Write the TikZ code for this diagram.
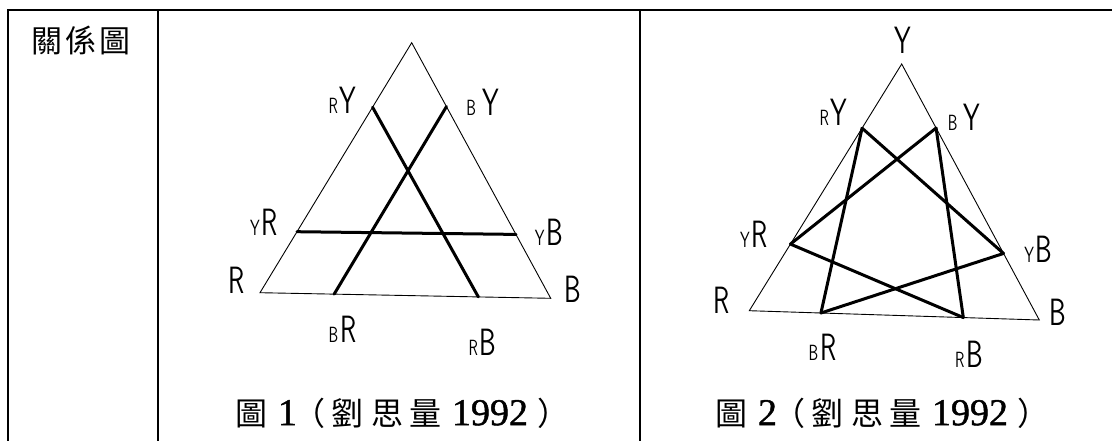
\documentclass[tikz,border=0pt]{standalone}
\usepackage{fontspec}
\usepackage{graphicx}
\usetikzlibrary{calc}
\newfontfamily\cjk{Noto Sans CJK TC}
\newfontfamily\dig{Liberation Serif}[FakeBold=1.2]
\newcommand\hwsub[1]{\scalebox{0.7}[1]{\fontsize{22}{22}\selectfont\sffamily #1}}
\newcommand\hwmain[1]{\scalebox{0.7}[1]{\fontsize{38}{38}\selectfont\sffamily #1}}
\newcommand\hw[2]{\hwsub{#1}\hspace{2pt}\hwmain{#2}}
\newcommand\captline[1]{\fontsize{32}{32}\selectfont
  \makebox[38pt]{\cjk 圖}\makebox[35pt]{\dig\fontsize{38}{38}\selectfont #1}\makebox[20pt]{\hspace{-12pt}\cjk （}\makebox[46pt]{\cjk 劉}\makebox[33pt]{\cjk 思}\makebox[42pt]{\cjk 量}\makebox[88pt]{\dig\fontsize{38}{38}\selectfont 1992}\makebox[27pt]{\hspace{12pt}\cjk ）}}
\tikzset{
  frame/.style={line width=2pt, black},
  thin/.style={line width=0.9pt},
  thick line/.style={line width=3pt, line cap=round},
  lab/.style={anchor=base, inner sep=0pt, outer sep=0pt},
  capt/.style={anchor=west, inner sep=0pt, outer sep=0pt},
}
\begin{document}
\begin{tikzpicture}[x=1pt,y=-1pt]
\useasboundingbox (0,0) rectangle (1112,440);
% table frame
\draw[frame] (8,450) -- (8,10) -- (1120,10);
\draw[frame] (158,10) -- (158,450);
\draw[frame] (640,10) -- (640,450);
\node[anchor=center, inner sep=0pt] (title) at (81,40) {\cjk\fontsize{31}{31}\selectfont 關\hspace{3pt}係\hspace{3pt}圖};

% ---------- figure 1 ----------
\coordinate (A1) at (411.7,42.7);
\coordinate (R1) at (260,292.7);
\coordinate (B1) at (550.7,298.3);
\coordinate (ry1) at ($(A1)!0.258!(R1)$);
\coordinate (yr1) at ($(A1)!0.756!(R1)$);
\coordinate (by1) at ($(A1)!0.25!(B1)$);
\coordinate (yb1) at ($(A1)!0.75!(B1)$);
\coordinate (br1) at ($(R1)!0.255!(B1)$);
\coordinate (rb1) at ($(R1)!0.751!(B1)$);
\draw[thin] (A1) -- (R1) -- (B1) -- cycle;
\draw[thick line] (ry1) -- (rb1);
\draw[thick line] (by1) -- (br1);
\draw[thick line] (yr1) -- (yb1);
\node[lab] (lry1) at (342.5,113) {\hw{R}{Y}};
\node[lab] (lby1) at (482.5,115) {\hwsub{B}\hspace{6pt}\hwmain{Y}};
\node[lab] (lyr1) at (264,235) {\hw{Y}{R}};
\node[lab] (lyb1) at (549,245) {\hw{Y}{B}};
\node[lab] (lr1) at (236.5,293) {\hwmain{R}};
\node[lab] (lb1) at (572.5,302) {\hwmain{B}};
\node[lab] (lbr1) at (342.5,342) {\hw{B}{R}};
\node[lab] (lrb1) at (482.5,355) {\hw{R}{B}};
\node[capt] (cap1) at (232,413) {\captline{1}};

% ---------- figure 2 ----------
\coordinate (A2) at (901.7,64);
\coordinate (R2) at (749.3,310.7);
\coordinate (B2) at (1039.3,320);
\coordinate (ry2) at ($(A2)!0.26!(R2)$);
\coordinate (yr2) at ($(A2)!0.73!(R2)$);
\coordinate (by2) at ($(A2)!0.25!(B2)$);
\coordinate (yb2) at ($(A2)!0.74!(B2)$);
\coordinate (br2) at ($(R2)!0.247!(B2)$);
\coordinate (rb2) at ($(R2)!0.738!(B2)$);
\draw[thin] (A2) -- (R2) -- (B2) -- cycle;
\draw[thick line] (ry2) -- (br2);
\draw[thick line] (ry2) -- (yb2);
\draw[thick line] (by2) -- (yr2);
\draw[thick line] (by2) -- (rb2);
\draw[thick line] (yr2) -- (rb2);
\draw[thick line] (yb2) -- (br2);
\node[lab] (ly2) at (902.5,53) {\hwmain{Y}};
\node[lab] (lry2) at (833.5,125) {\hw{R}{Y}};
\node[lab] (lby2) at (964,130) {\hwsub{B}\hspace{6pt}\hwmain{Y}};
\node[lab] (lyr2) at (754,247) {\hw{Y}{R}};
\node[lab] (lyb2) at (1038.5,262) {\hw{Y}{B}};
\node[lab] (lr2) at (721.5,313) {\hwmain{R}};
\node[lab] (lb2) at (1057.5,325) {\hwmain{B}};
\node[lab] (lbr2) at (822.5,360) {\hw{B}{R}};
\node[lab] (lrb2) at (969,367) {\hw{R}{B}};
\node[capt] (cap2) at (712,413) {\captline{2}};
\end{tikzpicture}
\end{document}
